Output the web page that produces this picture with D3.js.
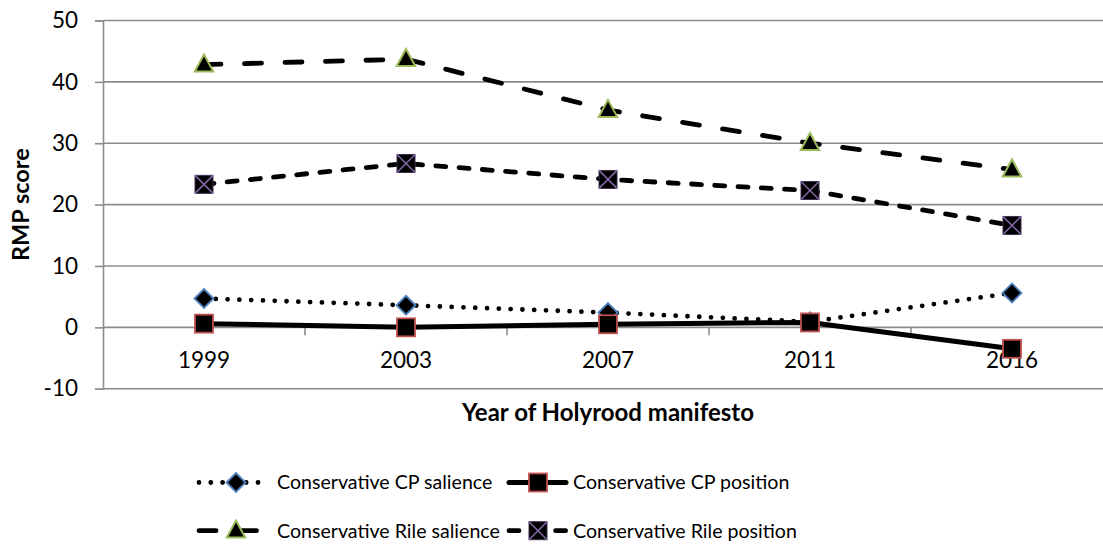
<!DOCTYPE html>
<html>
<head>
<meta charset="utf-8">
<script src="https://cdn.jsdelivr.net/npm/d3@7"></script>
<style>
  html, body { margin: 0; padding: 0; background: #fff; }
  svg { display: block; font-family: Lato, "Open Sans", sans-serif; }
</style>
</head>
<body>
<svg id="chart" width="1103" height="544"></svg>
<script>
// Holyrood manifesto years
const years = ["1999", "2003", "2007", "2011", "2016"];

// RMP scores per series
const cpSalience   = [4.7, 3.6, 2.4, 0.9, 5.6];
const cpPosition   = [0.6, 0.0, 0.5, 0.8, -3.5];
const rileSalience = [42.8, 43.7, 35.4, 30.0, 25.7];
const rilePosition = [23.3, 26.7, 24.1, 22.3, 16.6];

const yTicks = [-10, 0, 10, 20, 30, 40, 50];

const seriesNames = [
  "Conservative CP salience",
  "Conservative CP position",
  "Conservative Rile salience",
  "Conservative Rile position"
];

const series = [
  { name: seriesNames[0], values: cpSalience,   marker: "diamond",  stroke: "#4f81bd", dash: "0 11.8", width: 4.8 },
  { name: seriesNames[1], values: cpPosition,   marker: "square",   stroke: "#c0504d", dash: null,     width: 5 },
  { name: seriesNames[2], values: rileSalience, marker: "triangle", stroke: "#9bbb59", dash: "17 23.5", width: 4.8 },
  { name: seriesNames[3], values: rilePosition, marker: "xsquare",  stroke: "#8064a2", dash: "10 13.3", width: 4.8 }
];

const svg = d3.select("#chart");
const plot = { left: 103, right: 1113, top: 20.5, bottom: 388.7 };

const x = d3.scaleBand().domain(years).range([plot.left, plot.right]).padding(0);
const cx = d => x(d) + x.bandwidth() / 2;
const y = d3.scaleLinear().domain([-10, 50]).range([plot.bottom, plot.top]);

const gridColor = "#8c8c8c";

// horizontal gridlines
svg.append("g").selectAll("line").data(yTicks).join("line")
  .attr("x1", plot.left).attr("x2", plot.right)
  .attr("y1", d => y(d)).attr("y2", d => y(d))
  .attr("stroke", gridColor).attr("stroke-width", 1.6);

// value axis
const yAxis = svg.append("g")
  .attr("transform", `translate(${plot.left},0)`)
  .call(d3.axisLeft(y).tickValues(yTicks).tickSize(8).tickPadding(17).tickFormat(d => String(d)));
yAxis.select(".domain").attr("stroke", gridColor).attr("stroke-width", 1.6);
yAxis.selectAll(".tick line").attr("stroke", gridColor).attr("stroke-width", 1.6);
yAxis.selectAll(".tick text").attr("font-size", 22.5).attr("fill", "#000")
  .attr("font-family", "Lato, sans-serif");

// category axis sits on zero
const xAxis = svg.append("g")
  .attr("transform", `translate(0,${y(0)})`)
  .call(d3.axisBottom(x).tickSize(0).tickPadding(25));
xAxis.select(".domain").remove();
xAxis.selectAll(".tick text").attr("font-size", 22.5).attr("fill", "#000")
  .attr("font-family", "Lato, sans-serif");

// tick marks between categories
const boundaries = years.slice(1).map(d => x(d));
svg.append("g").selectAll("line").data(boundaries).join("line")
  .attr("x1", d => d).attr("x2", d => d)
  .attr("y1", y(0)).attr("y2", y(0) + 8)
  .attr("stroke", gridColor).attr("stroke-width", 1.6);

// axis titles
svg.append("text")
  .attr("x", (plot.left + plot.right) / 2).attr("y", 421)
  .attr("text-anchor", "middle").attr("font-weight", "bold").attr("font-size", 24)
  .text("Year of Holyrood manifesto");

svg.append("text")
  .attr("transform", `translate(28.5,${(plot.top + plot.bottom) / 2}) rotate(-90)`)
  .attr("text-anchor", "middle").attr("font-weight", "bold").attr("font-size", 23.5)
  .text("RMP score");

// marker drawing
function drawMarker(g, type, stroke, px, py) {
  if (type === "diamond") {
    const r = 9.5;
    g.append("path")
      .attr("d", `M${px},${py - r}L${px + r},${py}L${px},${py + r}L${px - r},${py}Z`)
      .attr("fill", "#000").attr("stroke", stroke).attr("stroke-width", 1.8);
  } else if (type === "square") {
    const s = 18;
    g.append("rect").attr("x", px - s / 2).attr("y", py - s / 2)
      .attr("width", s).attr("height", s)
      .attr("fill", "#000").attr("stroke", stroke).attr("stroke-width", 1.8);
  } else if (type === "triangle") {
    const w = 18.5, h = 17;
    g.append("path")
      .attr("d", `M${px},${py - h * 0.6}L${px + w / 2},${py + h * 0.4}L${px - w / 2},${py + h * 0.4}Z`)
      .attr("fill", "#000").attr("stroke", stroke).attr("stroke-width", 2);
  } else if (type === "xsquare") {
    const s = 18;
    g.append("rect").attr("x", px - s / 2).attr("y", py - s / 2)
      .attr("width", s).attr("height", s)
      .attr("fill", "#000").attr("stroke", "#3d2f4f").attr("stroke-width", 1);
    g.append("path")
      .attr("d", `M${px - s / 2},${py - s / 2}L${px + s / 2},${py + s / 2}M${px + s / 2},${py - s / 2}L${px - s / 2},${py + s / 2}`)
      .attr("stroke", stroke).attr("stroke-width", 1.6).attr("fill", "none");
  }
}

const line = d3.line().x((d, i) => cx(years[i])).y(d => y(d));

// series lines with their markers
series.forEach(s => {
  const g = svg.append("g");
  g.append("path").datum(s.values)
    .attr("d", line)
    .attr("fill", "none").attr("stroke", "#000")
    .attr("stroke-width", s.width)
    .attr("stroke-linecap", "round").attr("stroke-linejoin", "round")
    .attr("stroke-dasharray", s.dash);
  s.values.forEach((v, i) => drawMarker(g, s.marker, s.stroke, cx(years[i]), y(v)));
});

// legend: two rows, two columns
const legendCols = [
  { x1: 199, x2: 263, mx: 236, tx: 277 },
  { x1: 509, x2: 566, mx: 538, tx: 573 }
];
const legendRows = [482.5, 530.7];

series.forEach((s, i) => {
  const col = legendCols[i % 2];
  const ly = legendRows[Math.floor(i / 2)];
  const g = svg.append("g");
  g.append("line")
    .attr("x1", col.x1).attr("x2", col.x2).attr("y1", ly).attr("y2", ly)
    .attr("stroke", "#000").attr("stroke-width", s.width)
    .attr("stroke-linecap", "round")
    .attr("stroke-dasharray", s.dash);
  drawMarker(g, s.marker, s.stroke, col.mx, ly);
  g.append("text")
    .attr("x", col.tx).attr("y", ly).attr("dy", "0.35em")
    .attr("font-size", 19.6).attr("fill", "#000")
    .text(s.name);
});
</script>
</body>
</html>
